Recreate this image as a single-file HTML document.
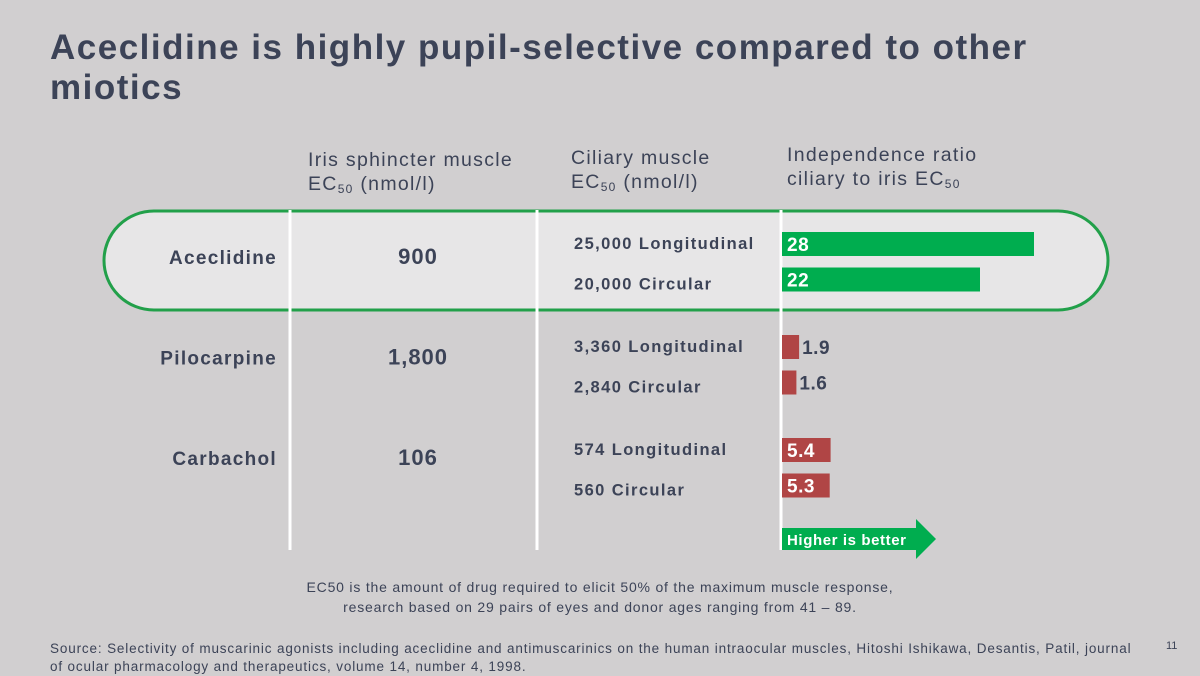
<!DOCTYPE html>
<html><head><meta charset="utf-8"><style>
html,body{margin:0;padding:0}
body{width:1200px;height:675px;background:#d1cfd0;position:relative;overflow:hidden;font-family:"Liberation Sans",sans-serif;color:#3c4357}
.a{position:absolute;white-space:nowrap}
sub{font-size:12px;vertical-align:-3px}
</style></head><body>
<div class="a" style="left:50px;top:28px;font-size:35px;letter-spacing:1.5px;font-weight:bold;line-height:40px;color:#3c4357">Aceclidine is highly pupil-selective compared to other<br>miotics</div>
<div class="a" style="left:308px;top:148px;font-size:19.5px;letter-spacing:1.3px;line-height:24px">Iris sphincter muscle<br>EC<sub>50</sub> (nmol/l)</div>
<div class="a" style="left:571px;top:146px;font-size:19.5px;letter-spacing:1.3px;line-height:24px">Ciliary muscle<br>EC<sub>50</sub> (nmol/l)</div>
<div class="a" style="left:787px;top:143px;font-size:19.5px;letter-spacing:1.3px;line-height:24px">Independence ratio<br>ciliary to iris EC<sub>50</sub></div>
<svg class="a" style="left:0;top:0" width="1200" height="675">
<rect x="104" y="211" width="1004" height="99" rx="50" fill="#e7e6e7" stroke="#22a04a" stroke-width="3"/>
<g id="lines"></g><g id="bars"></g>
<polygon points="782,528 916,528 916,519 936,539 916,559 916,550 782,550" fill="#00ad4f"/>
<text x="787" y="545" font-size="15" letter-spacing="0.6" font-weight="bold" fill="#fff" font-family="Liberation Sans">Higher is better</text>
</svg>
<div class="a" style="left:0;width:1200px;text-align:center;top:577px;font-size:14px;letter-spacing:0.8px;line-height:20px;white-space:normal">EC50 is the amount of drug required to elicit 50% of the maximum muscle response,<br>research based on 29 pairs of eyes and donor ages ranging from 41 – 89.</div>
<div class="a" style="left:50px;top:640px;font-size:13.5px;letter-spacing:0.85px;line-height:18px">Source: Selectivity of muscarinic agonists including aceclidine and antimuscarinics on the human intraocular muscles, Hitoshi Ishikawa, Desantis, Patil, journal<br>of ocular pharmacology and therapeutics, volume 14, number 4, 1998.</div>
<div class="a" style="left:1166px;top:640px;font-size:11px">11</div>
<script>
const drugs=["Aceclidine","Pilocarpine","Carbachol"];
const irisEC50=["900","1,800","106"];
const ciliaryLabels=["25,000 Longitudinal","20,000 Circular","3,360 Longitudinal","2,840 Circular","574 Longitudinal","560 Circular"];
const ratioValues=[28,22,1.9,1.6,5.4,5.3];
const ratioLabels=["28","22","1.9","1.6","5.4","5.3"];
const NS="http://www.w3.org/2000/svg";
const svg=document.querySelector('svg');
const x0=782,pxPerUnit=9;
const xScale=v=>x0+v*pxPerUnit;
const rowY=i=>232+Math.floor(i/2)*103+(i%2)*35.5;
const L=document.getElementById('lines'),B=document.getElementById('bars');
[290,537,781].forEach(x=>{const l=document.createElementNS(NS,'line');


l.setAttribute('x1',x);l.setAttribute('x2',x);l.setAttribute('y1',210);l.setAttribute('y2',550);l.setAttribute('stroke','#fff');l.setAttribute('stroke-width','3');L.appendChild(l);});
function txt(parent,x,y,s,size,fill,anchor,ls){const t=document.createElementNS(NS,'text');t.setAttribute('x',x);t.setAttribute('y',y);t.setAttribute('font-size',size);t.setAttribute('font-weight','bold');t.setAttribute('fill',fill);t.setAttribute('font-family','Liberation Sans');if(ls)t.setAttribute('letter-spacing',ls);if(anchor)t.setAttribute('text-anchor',anchor);t.textContent=s;parent.appendChild(t);return t;}
drugs.forEach((d,i)=>{const y=264+i*100.5;
const t=txt(B,277,y,d,19,'#3c4357','end',1.3);


const v=txt(B,418,y,irisEC50[i],22,'#3c4357','middle',1);

});
ratioValues.forEach((v,i)=>{const y=rowY(i);const w=xScale(v)-x0;const green=i<2;
const c=txt(B,574,y+(i%2?22:17),ciliaryLabels[i],16.5,'#3c4357',null,1.4);


const r=document.createElementNS(NS,'rect');


r.setAttribute('x',x0);r.setAttribute('y',y);r.setAttribute('width',w);r.setAttribute('height',24);r.setAttribute('fill',green?'#00ad4f':'#b04545');B.appendChild(r);
const inside=w>30;
const t=txt(B,inside?x0+5:xScale(v)+3,y+19,ratioLabels[i],19,inside?'#fff':'#3c4357',null,0.5);

});
</script>
</body></html>
